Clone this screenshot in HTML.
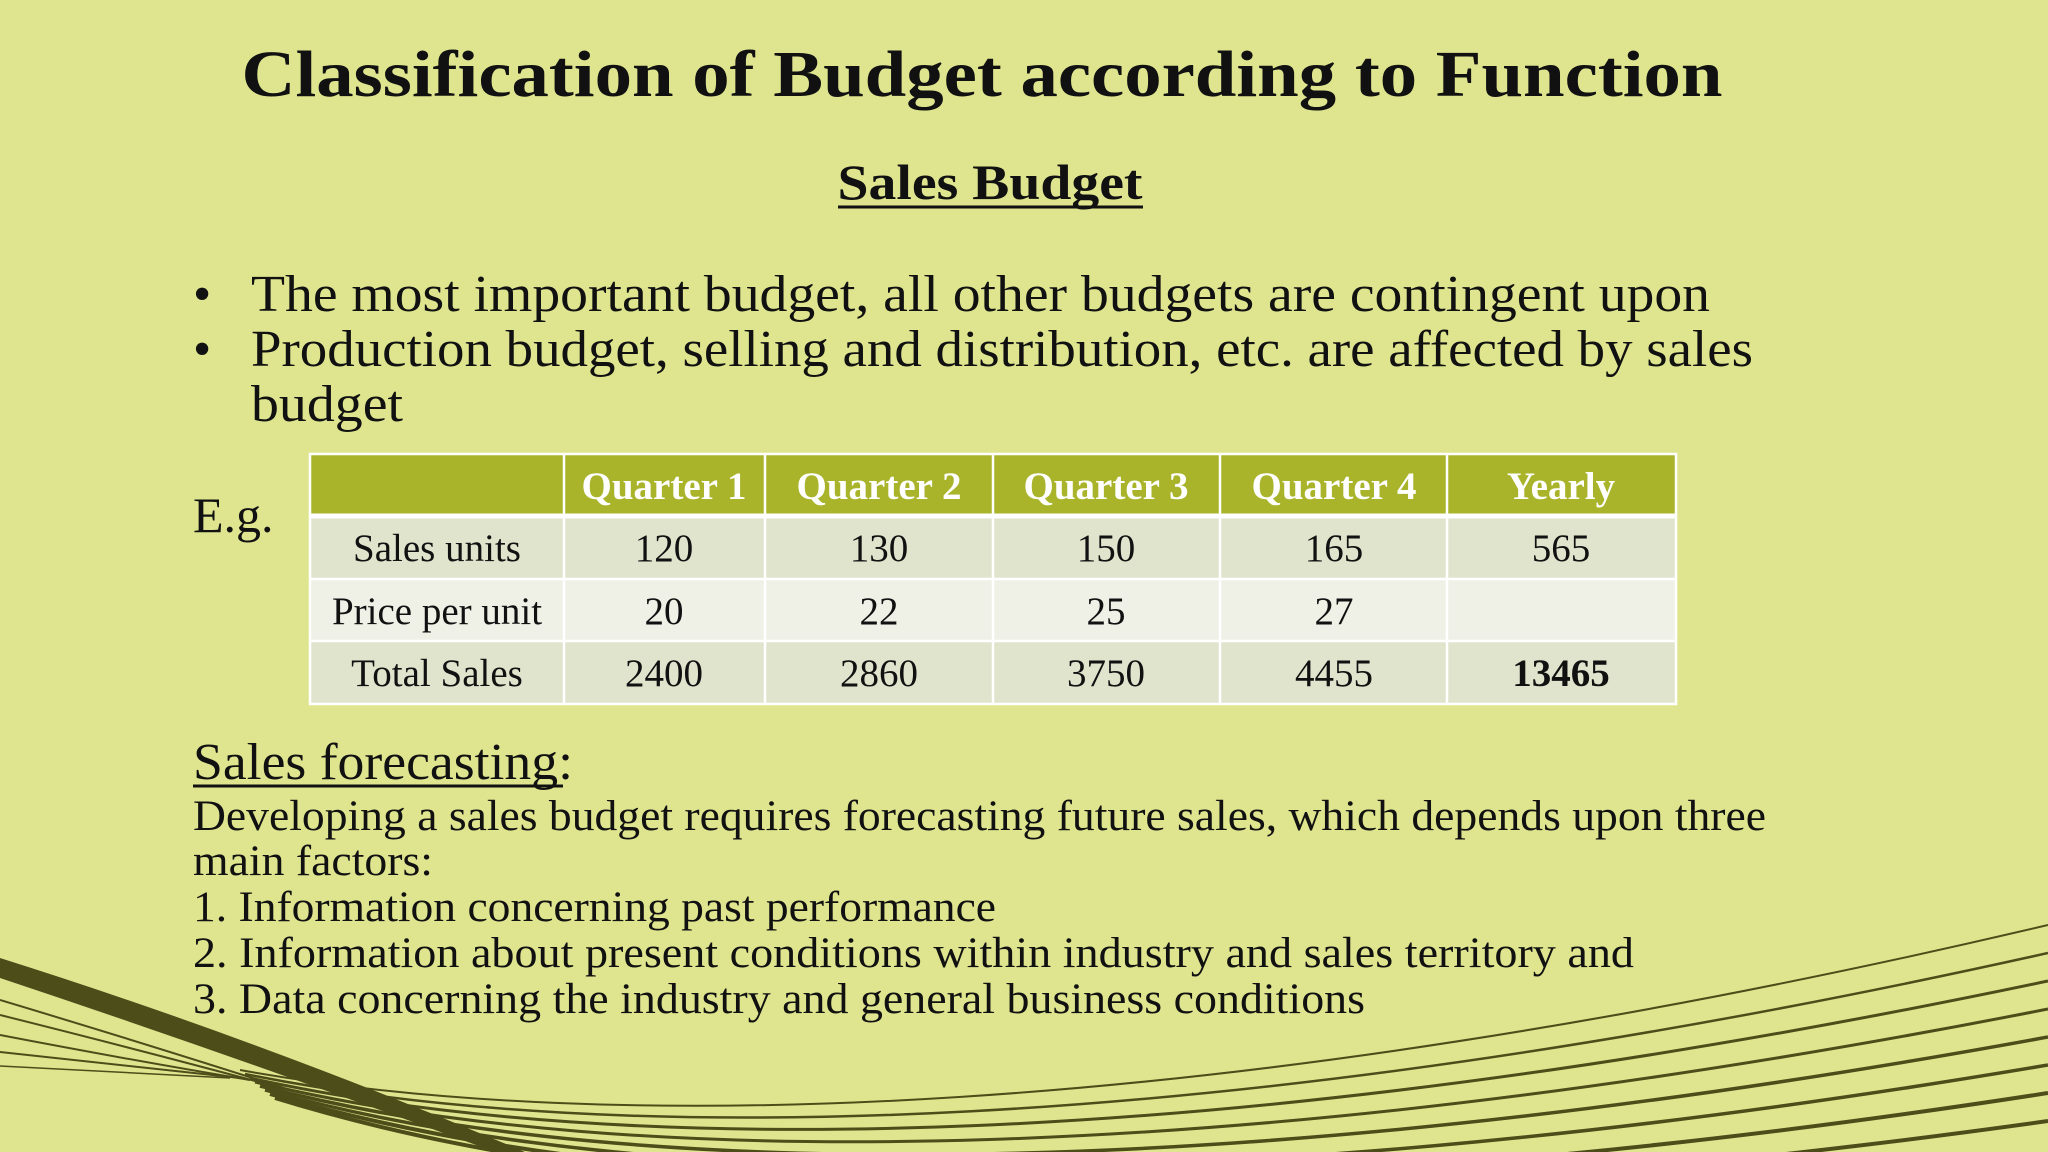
<!DOCTYPE html>
<html><head><meta charset="utf-8"><style>
html,body{margin:0;padding:0;background:#dfe58f;width:2048px;height:1152px;overflow:hidden;}
svg{display:block;}
text{font-family:"Liberation Serif",serif;}
</style></head><body>
<svg width="2048" height="1152" viewBox="0 0 2048 1152">
<rect x="0" y="0" width="2048" height="1152" fill="#dfe58f"/>
<g fill="none" stroke="#4d4d1a">
<path d="M0 958 Q260 1040 525 1152 L495 1152 Q240 1058 0 978 Z" fill="#4d4d1a" stroke="none"/>
<path d="M0 1000 Q150 1045 290 1090" stroke-width="2"/>
<path d="M0 1015 Q140 1050 270 1085" stroke-width="2"/>
<path d="M0 1035 Q130 1060 250 1080" stroke-width="2"/>
<path d="M0 1052 Q120 1065 240 1078" stroke-width="2"/>
<path d="M0 1066 Q110 1072 230 1078" stroke-width="1.5"/>
<path d="M240 1070 C600 1135 1200 1125 2048 925" stroke-width="2"/>
<path d="M245 1074 C610 1148 1210 1140 2048 953" stroke-width="2.5"/>
<path d="M250 1078 C620 1160 1220 1155 2048 981" stroke-width="3"/>
<path d="M255 1082 C630 1172 1230 1170 2048 1009" stroke-width="3"/>
<path d="M260 1086 C640 1184 1240 1185 2048 1037" stroke-width="3.5"/>
<path d="M265 1090 C650 1196 1250 1200 2048 1065" stroke-width="3.5"/>
<path d="M270 1094 C660 1208 1260 1215 2048 1093" stroke-width="4"/>
<path d="M275 1098 C670 1220 1270 1230 2048 1121" stroke-width="4"/>
</g>
<text x="982" y="96" text-anchor="middle" font-size="66" font-weight="bold" textLength="1481" lengthAdjust="spacingAndGlyphs" fill="#111">Classification of Budget according to Function</text>
<text x="990" y="199" text-anchor="middle" font-size="50" font-weight="bold" textLength="305" lengthAdjust="spacingAndGlyphs" fill="#111">Sales Budget</text>
<line x1="838" y1="207" x2="1143" y2="207" stroke="#111" stroke-width="3"/>
<g font-size="52" fill="#111">
<text x="193" y="311">•</text>
<text x="251" y="311" textLength="1459" lengthAdjust="spacingAndGlyphs">The most important budget, all other budgets are contingent upon</text>
<text x="193" y="366">•</text>
<text x="251" y="366" textLength="1502" lengthAdjust="spacingAndGlyphs">Production budget, selling and distribution, etc. are affected by sales</text>
<text x="251" y="421" textLength="152" lengthAdjust="spacingAndGlyphs">budget</text>
</g>
<text x="193" y="532" font-size="50" fill="#111">E.g.</text>
<g font-size="39">
<rect x="310" y="454" width="1366" height="62" fill="#a9b42b"/>
<rect x="310" y="516" width="1366" height="63" fill="#e0e4cd"/>
<rect x="310" y="579" width="1366" height="62" fill="#eff1e7"/>
<rect x="310" y="641" width="1366" height="63" fill="#e0e4cd"/>
<g stroke="#fff" stroke-width="2.5" fill="none">
<rect x="310" y="454" width="1366" height="250"/>
<line x1="310" y1="516" x2="1676" y2="516" stroke-width="5"/>
<line x1="310" y1="579" x2="1676" y2="579"/>
<line x1="310" y1="641" x2="1676" y2="641"/>
<line x1="564" y1="454" x2="564" y2="704"/>
<line x1="765" y1="454" x2="765" y2="704"/>
<line x1="993" y1="454" x2="993" y2="704"/>
<line x1="1220" y1="454" x2="1220" y2="704"/>
<line x1="1447" y1="454" x2="1447" y2="704"/>
</g>
<g fill="#fff" text-anchor="middle" font-weight="bold">
<text x="664" y="499">Quarter 1</text>
<text x="879" y="499">Quarter 2</text>
<text x="1106" y="499">Quarter 3</text>
<text x="1334" y="499">Quarter 4</text>
<text x="1561" y="499">Yearly</text>
</g>
<g fill="#111" text-anchor="middle">
<text x="437" y="561">Sales units</text>
<text x="664" y="561">120</text><text x="879" y="561">130</text><text x="1106" y="561">150</text><text x="1334" y="561">165</text><text x="1561" y="561">565</text>
<text x="437" y="624">Price per unit</text>
<text x="664" y="624">20</text><text x="879" y="624">22</text><text x="1106" y="624">25</text><text x="1334" y="624">27</text>
<text x="437" y="686">Total Sales</text>
<text x="664" y="686">2400</text><text x="879" y="686">2860</text><text x="1106" y="686">3750</text><text x="1334" y="686">4455</text><text x="1561" y="686" font-weight="bold">13465</text>
</g>
</g>
<text x="193" y="779" font-size="52" fill="#111" textLength="380" lengthAdjust="spacingAndGlyphs">Sales forecasting:</text>
<line x1="193" y1="786" x2="563" y2="786" stroke="#111" stroke-width="3"/>
<g font-size="43" fill="#111">
<text x="193" y="830" textLength="1573" lengthAdjust="spacingAndGlyphs">Developing a sales budget requires forecasting future sales, which depends upon three</text>
<text x="193" y="875" textLength="240" lengthAdjust="spacingAndGlyphs">main factors:</text>
<text x="193" y="921" textLength="803" lengthAdjust="spacingAndGlyphs">1. Information concerning past performance</text>
<text x="193" y="967" textLength="1441" lengthAdjust="spacingAndGlyphs">2. Information about present conditions within industry and sales territory and</text>
<text x="193" y="1013" textLength="1172" lengthAdjust="spacingAndGlyphs">3. Data concerning the industry and general business conditions</text>
</g>
</svg>
</body></html>
